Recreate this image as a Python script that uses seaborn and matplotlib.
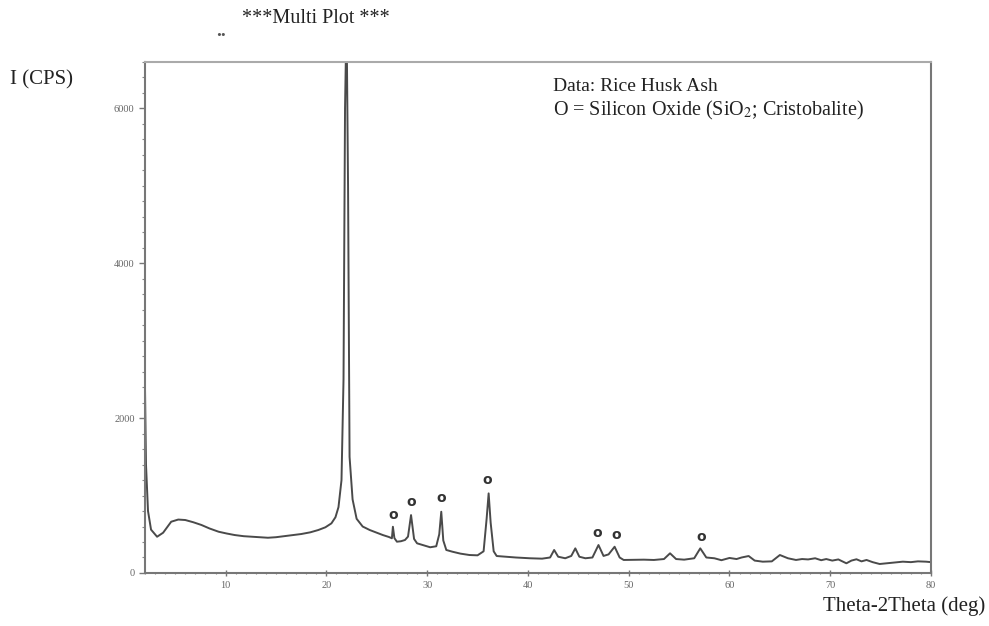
import numpy as np
import pandas as pd
import seaborn as sns
import matplotlib.pyplot as plt
from matplotlib.ticker import MultipleLocator

two_theta = [
    2.0, 2.1, 2.3, 2.6, 3.2, 3.8, 4.6, 5.3, 6.0, 6.8,
    7.6, 8.4, 9.3, 10.1, 10.9, 11.8, 12.6, 13.4, 14.2, 15.0,
    15.9, 16.7, 17.5, 18.4, 19.2, 19.9, 20.5, 20.9, 21.2, 21.5,
    21.7, 21.85, 22.0, 22.15, 22.3, 22.6, 23.0, 23.6, 24.3, 25.0,
    25.6, 26.2, 26.5, 26.6, 26.75, 27.0, 27.4, 27.8, 28.1, 28.4,
    28.7, 29.0, 29.6, 30.3, 30.9, 31.2, 31.4, 31.6, 31.9, 32.5,
    33.3, 34.2, 35.0, 35.6, 35.9, 36.1, 36.3, 36.6, 36.9, 37.8,
    38.8, 40.2, 41.4, 42.2, 42.6, 43.0, 43.7, 44.3, 44.7, 45.1,
    45.7, 46.4, 47.0, 47.5, 48.0, 48.6, 49.1, 49.5, 50.5, 51.5,
    52.5, 53.5, 54.1, 54.7, 55.5, 56.5, 57.1, 57.7, 58.5, 59.2,
    60.0, 60.7, 61.2, 61.9, 62.5, 63.3, 64.2, 65.0, 65.8, 66.6,
    67.2, 67.8, 68.5, 69.1, 69.6, 70.2, 70.8, 71.6, 72.1, 72.6,
    73.1, 73.6, 74.2, 74.9, 75.6, 76.4, 77.2, 78.0, 78.7, 79.5,
    80.0,
]
intensity = [
    2400, 1400, 800, 560, 468, 520, 662, 690, 684, 655,
    620, 575, 533, 510, 490, 475, 468, 462, 455, 462,
    477, 490, 503, 525, 555, 590, 641, 720, 850, 1200,
    2500, 6000, 7200, 5000, 1500, 950, 700, 600, 555, 520,
    490, 465, 448, 597, 450, 404, 410, 426, 470, 748,
    440, 383, 360, 332, 345, 500, 791, 420, 297, 275,
    250, 232, 228, 280, 700, 1028, 650, 280, 219, 210,
    200, 190, 185, 200, 297, 210, 190, 220, 318, 210,
    190, 200, 361, 220, 240, 339, 200, 168, 170, 172,
    168, 180, 254, 180, 172, 190, 318, 200, 190, 165,
    194, 180, 200, 219, 160, 146, 150, 232, 190, 168,
    180, 175, 190, 165, 180, 160, 175, 125, 160, 177,
    150, 168, 140, 116, 125, 135, 146, 140, 150, 146,
    140,
]

# marcatori "O" (cristobalite)
marker_theta = [26.6, 28.4, 31.4, 36.0, 46.9, 48.8, 57.2]
marker_y = [748, 916, 968, 1200, 516, 490, 465]

df = pd.DataFrame({"two_theta": two_theta, "intensity": intensity})

sns.set_style("white")
plt.rcParams['font.family'] = ['Liberation Serif', 'DejaVu Serif']
plt.rcParams['mathtext.fontset'] = 'stix'

fig = plt.figure(figsize=(9.89, 6.26), dpi=100)
ax = fig.add_axes([0.1466, 0.0847, 0.7948, 0.8163])

sns.lineplot(data=df, x="two_theta", y="intensity", ax=ax,
             color="#4a4a4a", linewidth=1.4)

for t, y in zip(marker_theta, marker_y):
    ax.text(t, y, "o", ha="center", va="center", fontsize=10,
            color="#333333", family="DejaVu Sans", fontweight="bold")

ax.set_xlim(2, 80)
ax.set_ylim(0, 6600)
ax.xaxis.set_major_locator(MultipleLocator(10))
ax.xaxis.set_minor_locator(MultipleLocator(1))
ax.yaxis.set_major_locator(MultipleLocator(2000))
ax.yaxis.set_minor_locator(MultipleLocator(200))
ax.set_xticks([10, 20, 30, 40, 50, 60, 70, 80])
ax.tick_params(axis="both", which="major", direction="out", length=4,
               width=1, color="#777777", labelsize=7.5, labelcolor="#666666")
ax.tick_params(axis="both", which="minor", direction="out", length=2,
               width=0.8, color="#888888")
ax.tick_params(axis="x", which="both", bottom=True, direction="inout")
ax.tick_params(axis="y", which="both", left=True)
ax.set_xlabel("")
ax.set_ylabel("")

for side in ["left", "bottom", "right"]:
    ax.spines[side].set_color("#777777")
    ax.spines[side].set_linewidth(1.5)
ax.spines["top"].set_color("#aaaaaa")
ax.spines["top"].set_linewidth(1.5)

ax.text(0.519, 0.952, "Data: Rice Husk Ash", transform=ax.transAxes,
        fontsize=14, color="#222222", va="center")
ax.text(0.519, 0.905, "O = Silicon Oxide (SiO$_2$; Cristobalite)",
        transform=ax.transAxes, fontsize=14.5, color="#222222", va="center")

fig.text(0.010, 0.873, "I (CPS)", fontsize=15, color="#222222", va="center")
fig.text(0.996, 0.032, "Theta-2Theta (deg)", fontsize=15, color="#222222",
         va="center", ha="right")
fig.text(0.245, 0.971, "***Multi Plot ***", fontsize=14.5, color="#222222",
         va="center")
fig.text(0.219, 0.95, "..", fontsize=14, color="#555555", va="center",
         fontweight="bold")

plt.savefig("out.png", dpi=100)
plt.close()
